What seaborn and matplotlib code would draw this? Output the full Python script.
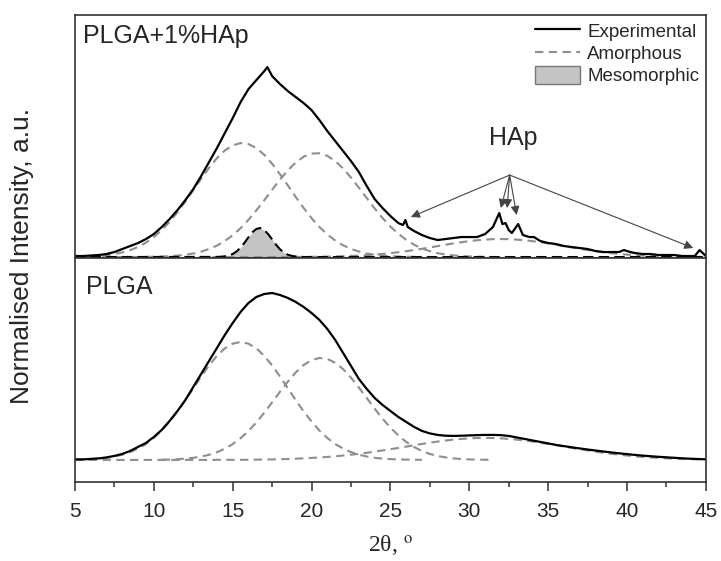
import numpy as np
import seaborn as sns
import matplotlib.pyplot as plt
from matplotlib.lines import Line2D
from matplotlib.patches import Patch

# common 2-theta grid for the fitted components (deg)
angle = np.arange(5.0, 45.01, 0.5)

# ---- PLGA + 1% HAp (top panel) ----
hap_exp_x = [5.0, 5.5, 6.0, 6.5, 7.0, 7.5, 8.0, 8.5, 9.0, 9.5, 10.0, 10.5, 11.0, 11.5, 12.0,
             12.5, 13.0, 13.5, 14.0, 14.5, 15.0, 15.5, 16.0, 16.5, 17.0, 17.2, 17.5, 18.0,
             18.5, 19.0, 19.5, 20.0, 20.5, 21.0, 21.5, 22.0, 22.5, 23.0, 23.5, 24.0, 24.5,
             25.0, 25.5, 25.8, 25.95, 26.1, 26.5, 27.0, 27.5, 28.0, 28.5, 29.0, 29.5, 30.0,
             30.5, 31.0, 31.5, 31.9, 32.1, 32.3, 32.5, 32.7, 33.1, 33.4, 33.8, 34.1, 34.5,
             35.0, 35.5, 36.0, 36.5, 37.0, 37.5, 38.0, 38.5, 39.0, 39.5, 39.8, 40.2, 40.5,
             41.0, 41.5, 42.0, 42.5, 43.0, 43.5, 44.0, 44.3, 44.6, 44.8, 45.0]
hap_exp_y = [1, 1, 1.5, 2, 3, 5, 8, 11, 14, 18, 23, 30, 38, 47, 57,
             68, 81, 95, 109, 124, 139, 155, 168, 177, 186, 190, 181, 173,
             166, 160, 154, 147, 137, 126, 116, 106, 96, 85, 71, 58, 49,
             41, 34, 32, 37, 30, 26, 22, 19, 17, 18, 19, 20, 20,
             20, 23, 30, 44, 33, 34, 27, 24, 33, 22, 20, 20, 16,
             14, 13, 11, 10, 9, 8, 6, 5, 5, 5, 7, 5, 4,
             3, 3, 2, 2, 2, 1, 1, 1, 7, 4, 1]
hap_amorph1 = [0.2, 0.4, 0.7, 1.1, 1.9, 3.0, 4.6, 6.9, 10.1, 14.4, 20, 26.9, 35.2, 44.8, 55.5,
               66.8, 78.3, 89.2, 98.9, 106.6, 111.7, 114, 113, 109, 102.3, 93.3, 82.8, 71.5,
               60, 49, 38.9, 30, 22.6, 16.5, 11.7, 8.1, 5.5, 3.5, 2.3, 1.4, 0.8, 0.5, 0.3,
               0.2, 0.1, 0, 0, 0, 0, 0, 0, 0, 0, 0, 0, 0, 0, 0, 0, 0, 0, 0, 0, 0, 0, 0, 0,
               0, 0, 0, 0, 0, 0, 0, 0, 0, 0, 0, 0, 0, 0]
hap_amorph2 = [0, 0, 0, 0, 0, 0, 0, 0, 0, 0.2, 0.3, 0.5, 0.8, 1.4, 2.3,
               3.5, 5.4, 8.0, 11.4, 16.0, 21.8, 28.9, 37.2, 46.7, 56.8, 67.3, 77.5, 86.8,
               94.6, 100.4, 103.5, 103.8, 101.2, 96, 88.6, 79.5, 69.4, 58.9, 48.6, 39, 30.5,
               23.2, 17.2, 12.3, 8.6, 5.8, 3.8, 2.5, 1.6, 0.9, 0.6, 0.3, 0.2, 0, 0, 0, 0,
               0, 0, 0, 0, 0, 0, 0, 0, 0, 0, 0, 0, 0, 0, 0, 0, 0, 0, 0, 0, 0, 0, 0, 0]
hap_amorph3 = [0, 0, 0, 0, 0, 0, 0, 0, 0, 0, 0, 0, 0, 0, 0,
               0, 0, 0, 0, 0, 0, 0, 0, 0, 0, 0, 0, 0,
               0.1, 0.1, 0.2, 0.3, 0.4, 0.6, 0.8, 1.1, 1.4, 1.9, 2.4, 3.1, 3.9,
               4.8, 5.8, 7.0, 8.2, 9.6, 10.9, 12.3, 13.6, 14.8, 15.9, 16.8, 17.4, 17.9, 18,
               17.9, 17.4, 16.8, 15.9, 14.8, 13.6, 12.3, 10.9, 9.6, 8.2, 7.0, 5.8, 4.8, 3.9,
               3.1, 2.4, 1.9, 1.4, 1.1, 0.8, 0.6, 0.4, 0.3, 0.2, 0.2, 0.1]
meso_x = [5.0, 14.0, 14.25, 14.5, 14.75, 15.0, 15.25, 15.5, 15.75, 16.0, 16.25, 16.5, 16.75,
          17.0, 17.25, 17.5, 17.75, 18.0, 18.25, 18.5, 18.75, 19.0, 19.25, 19.5, 45.0]
meso_y = [0, 0.1, 0.3, 0.7, 1.5, 3.0, 5.6, 9.4, 14.3, 19.8, 24.8, 28.1, 29,
          27, 22.9, 17.6, 12.3, 7.7, 4.4, 2.3, 1.1, 0.5, 0.2, 0, 0]

# HAp reflections marked by arrows: (2theta, height)
hap_label_pos = (32.8, 119)
hap_arrow_from = (32.56, 82)
hap_arrow_to = [(26.3, 40), (32.0, 49), (32.4, 49), (33.0, 42), (44.2, 9)]

# ---- PLGA (bottom panel) ----
plga_exp_y = [0.5, 0.5, 1, 1.5, 2.5, 4, 6, 9, 13, 17, 23, 30, 39, 49, 60,
              73, 86, 99, 112, 125, 137, 148, 157, 163, 166, 167, 165, 162,
              158, 153, 147, 140, 131, 120, 107, 94, 81, 71, 62, 55, 49,
              43, 38, 33, 29, 26.5, 25, 24.2, 24, 24.2, 24.5, 24.8, 25, 25, 24.8,
              24, 22.5, 21, 19.5, 18, 16.5, 15, 13.8, 12.6, 11.5, 10.4, 9.4, 8.4, 7.5,
              6.6, 5.8, 5, 4.3, 3.7, 3.1, 2.6, 2.1, 1.6, 1.2, 0.9, 0.6]
plga_amorph1 = [0.3, 0.5, 0.8, 1.3, 2.1, 3.4, 5.2, 7.8, 11.3, 15.9, 21.9, 29.4, 38.4, 48.5, 59.7,
                71.6, 83.4, 94.5, 104.1, 111.6, 116.3, 118, 116.3, 111.6, 104.1, 94.5, 83.4,
                71.6, 59.7, 48.5, 38.4, 29.4, 21.9, 15.9, 11.3, 7.8, 5.2, 3.4, 2.1, 1.3, 0.8,
                0.5, 0.3, 0.2, 0.1, 0, 0, 0, 0, 0, 0, 0, 0, 0, 0, 0, 0, 0, 0, 0, 0, 0, 0,
                0, 0, 0, 0, 0, 0, 0, 0, 0, 0, 0, 0, 0, 0, 0, 0, 0, 0]
plga_amorph2 = [0, 0, 0, 0, 0, 0, 0, 0, 0, 0, 0, 0.2, 0.4, 0.7, 1.3,
                2.1, 3.3, 5.1, 7.7, 11.2, 15.8, 21.7, 29, 37.5, 47.2, 57.6, 68.2, 78.4,
                87.6, 95, 99.8, 102, 101, 97.2, 90.8, 82.3, 72.4, 61.9, 51.3, 41.3, 32.3,
                24.5, 18, 12.9, 8.9, 6, 3.9, 2.5, 1.5, 0.9, 0.5, 0.3, 0.2, 0.1, 0, 0, 0,
                0, 0, 0, 0, 0, 0, 0, 0, 0, 0, 0, 0, 0, 0, 0, 0, 0, 0, 0, 0, 0, 0, 0, 0]
plga_amorph3 = [0, 0, 0, 0, 0, 0, 0, 0, 0, 0, 0, 0, 0, 0, 0,
                0, 0, 0, 0.1, 0.1, 0.1, 0.1, 0.2, 0.3, 0.4, 0.5, 0.7, 0.9,
                1.2, 1.6, 2.0, 2.4, 3.0, 3.6, 4.4, 5.2, 6.1, 7.1, 8.3, 9.5, 10.7,
                12, 13.3, 14.7, 16, 17.2, 18.4, 19.4, 20.3, 21, 21.6, 21.9, 22, 21.9, 21.6,
                21, 20.3, 19.4, 18.4, 17.2, 16, 14.7, 13.3, 12, 10.7, 9.5, 8.3, 7.1, 6.1,
                5.2, 4.4, 3.6, 3.0, 2.4, 2.0, 1.6, 1.2, 1.0, 0.7, 0.6, 0.4]

panel_names = ["PLGA+1%HAp", "PLGA"]
legend_labels = ["Experimental", "Amorphous", "Mesomorphic"]

sns.set_style("ticks")
plt.rcParams['font.family'] = ['Liberation Sans', 'DejaVu Sans']
plt.rcParams['mathtext.fontset'] = 'stix'

exp_color = "black"
am_color = "#8e8e8e"
meso_fill = "#c4c4c4"
am_ls = (0, (4, 2.6))


def drop_tail(values):
    # leave out the flat zero tails so overlapping dashes don't merge into a solid line
    v = np.asarray(values, dtype=float)
    return np.where(v == 0, np.nan, v)


fig, (ax1, ax2) = plt.subplots(2, 1, figsize=(7.21, 5.61), dpi=100,
                               gridspec_kw={"height_ratios": [243, 224]})
fig.subplots_adjust(left=0.104, right=0.979, top=0.973, bottom=0.141, hspace=0)

# top panel
ax1.fill_between(meso_x, meso_y, 0, color=meso_fill, lw=0)
for comp in [hap_amorph1, hap_amorph2]:
    sns.lineplot(x=angle, y=drop_tail(comp), ax=ax1, color=am_color, lw=1.5, linestyle=am_ls)
sns.lineplot(x=angle, y=hap_amorph3, ax=ax1, color=am_color, lw=1.5, linestyle=am_ls)
sns.lineplot(x=meso_x, y=meso_y, ax=ax1, color="black", lw=1.5, linestyle=(0, (5, 2.5)))
sns.lineplot(x=hap_exp_x, y=hap_exp_y, ax=ax1, color=exp_color, lw=1.6, sort=False)

for tip in hap_arrow_to:
    ax1.annotate("", xy=tip, xytext=hap_arrow_from,
                 arrowprops=dict(arrowstyle="-|>", color="#444444", lw=0.8,
                                 mutation_scale=13, shrinkA=0, shrinkB=0))
ax1.text(hap_label_pos[0], hap_label_pos[1], "HAp", fontsize=18, ha="center", va="center")

# bottom panel
for comp in [plga_amorph1, plga_amorph2]:
    sns.lineplot(x=angle, y=drop_tail(comp), ax=ax2, color=am_color, lw=1.5, linestyle=am_ls)
sns.lineplot(x=angle, y=plga_amorph3, ax=ax2, color=am_color, lw=1.5, linestyle=am_ls)
sns.lineplot(x=angle, y=plga_exp_y, ax=ax2, color=exp_color, lw=1.6)

ax1.set_ylim(-1, 242)
ax2.set_ylim(-22, 202)
for ax in [ax1, ax2]:
    ax.set_xlim(5, 45)
    ax.set_yticks([])
    ax.set_ylabel("")
    ax.set_xlabel("")
    for sp in ax.spines.values():
        sp.set_visible(True)
        sp.set_color("#333333")
        sp.set_linewidth(1.2)
ax1.text(0.013, 0.962, panel_names[0], transform=ax1.transAxes, fontsize=18, va="top", ha="left")
ax2.text(0.018, 0.925, panel_names[1], transform=ax2.transAxes, fontsize=18, va="top", ha="left")

ax1.tick_params(axis="x", which="both", bottom=False, labelbottom=False)
ax2.set_xticks(np.arange(5, 46, 5))
ax2.set_xticks(np.arange(7.5, 45, 5), minor=True)
ax2.tick_params(axis="x", which="major", direction="out", length=6.5, width=1.1,
                color="#333333", labelsize=15, pad=8)
ax2.tick_params(axis="x", which="minor", direction="out", length=3.5, width=1.1, color="#333333")

ax2.set_xlabel("2θ, $^{\\rm o}$", fontsize=17, family="Liberation Serif", labelpad=9)
fig.text(22 / 721, 1 - 256 / 561, "Normalised Intensity, a.u.", rotation=90,
         ha="center", va="center", fontsize=19)

handles = [Line2D([], [], color=exp_color, lw=1.6),
           Line2D([], [], color=am_color, lw=1.5, linestyle=am_ls),
           Patch(facecolor=meso_fill, edgecolor="#777777", lw=1)]
ax1.legend(handles, legend_labels, loc="upper right", frameon=False, fontsize=13.5,
           handlelength=2.4, handleheight=1.1, labelspacing=0.15, handletextpad=0.4,
           borderaxespad=0.25, borderpad=0.1)

fig.savefig("out.png", dpi=100)
